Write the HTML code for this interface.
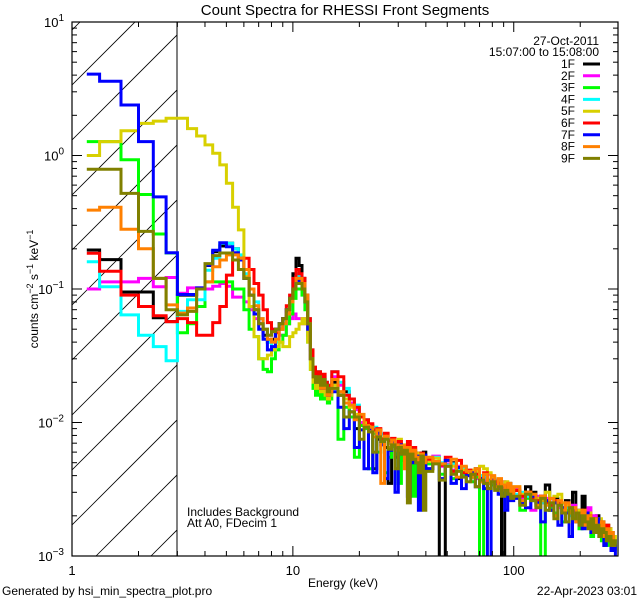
<!DOCTYPE html>
<html><head><meta charset="utf-8">
<style>
html,body{margin:0;padding:0;background:#fff;width:640px;height:600px;overflow:hidden;}
svg{display:block;font-family:"Liberation Sans",sans-serif;overflow:hidden;}
</style></head>
<body>
<svg id="chart" width="640" height="600" viewBox="0 0 640 600" xmlns="http://www.w3.org/2000/svg">
<rect width="640" height="600" fill="#fff"/>
<text x="345" y="15" font-size="15" text-anchor="middle">Count Spectra for RHESSI Front Segments</text>
<defs><clipPath id="plotclip"><rect x="72" y="22" width="546" height="534"/></clipPath>
<clipPath id="hatchclip"><rect x="72" y="22" width="105" height="534"/></clipPath></defs>
<g id="hatch" clip-path="url(#hatchclip)" stroke="#000" stroke-width="0.8"></g>
<line x1="177" y1="22" x2="177" y2="556" stroke="#000" stroke-width="1"/>
<g id="series" clip-path="url(#plotclip)" fill="none" stroke-width="3" stroke-linejoin="miter"></g>
<rect x="72" y="22" width="546" height="534" fill="none" stroke="#000" stroke-width="1.2"/>
<g id="ticks" stroke="#000" stroke-width="1"></g>
<g id="ticklabels" font-size="13"></g>
<text transform="translate(38,289) rotate(-90)" font-size="12" text-anchor="middle">counts cm<tspan dy="-5" font-size="9">−2</tspan><tspan dy="5"> s</tspan><tspan dy="-5" font-size="9">−1</tspan><tspan dy="5"> keV</tspan><tspan dy="-5" font-size="9">−1</tspan></text>
<text x="343" y="587" font-size="12" text-anchor="middle">Energy (keV)</text>
<text x="187" y="516" font-size="12">Includes Background</text>
<text x="187" y="527" font-size="12">Att A0, FDecim 1</text>
<text x="599" y="45" font-size="12" text-anchor="end">27-Oct-2011</text>
<text x="599" y="56" font-size="12" text-anchor="end">15:07:00 to 15:08:00</text>
<g id="legend" font-size="12"></g>
<text x="2" y="595" font-size="12">Generated by hsi_min_spectra_plot.pro</text>
<text x="637" y="595" font-size="12" text-anchor="end">22-Apr-2023 03:01</text>
</svg>
<script>
// ---- data ----
const binSegments = [[1,15,1/3],[15,40,1],[40,100,3],[100,295,6.5]]; // keV: start, end, width
const seriesNames = ["1F","2F","3F","4F","5F","6F","7F","8F","9F"];
const seriesColors = ["#000000","#ff00ff","#00ff00","#00ffff","#d8d000","#ff0000","#0000ff","#ff8000","#808000"];
const low1F=[0.196,0.166,0.095,0.095,0.061,0.057,0.09,0.09,0.1,0.15,0.19,0.21,0.22,0.2,0.17,0.12,0.09,0.07,0.055,0.045,0.04,0.042,0.05,0.055,0.06,0.07,0.085,0.13,0.17,0.15,0.12,0.09,0.05,0.03,0.022,0.02,0.021,0.019,0.02,0.018,0.016,0.017];
const low2F=[0.1,0.113,0.113,0.12,0.104,0.122,0.093,0.102,0.102,0.1,0.105,0.11,0.105,0.087,0.087,0.08,0.07,0.06,0.055,0.05,0.045,0.05,0.05,0.045,0.045,0.055,0.06,0.065,0.06,0.06,0.055,0.06,0.045,0.03,0.022,0.02,0.022,0.019,0.021,0.019,0.017,0.018];
const low3F=[1.27,1.27,0.93,0.51,0.258,0.186,0.047,0.055,0.074,0.113,0.113,0.113,0.113,0.1,0.1,0.07,0.05,0.044,0.03,0.025,0.024,0.03,0.035,0.04,0.045,0.055,0.065,0.085,0.1,0.1,0.09,0.07,0.04,0.025,0.018,0.016,0.018,0.015,0.017,0.015,0.014,0.015];
const low4F=[0.16,0.104,0.064,0.045,0.037,0.029,0.068,0.083,0.083,0.138,0.17,0.22,0.22,0.2,0.18,0.13,0.1,0.08,0.06,0.05,0.04,0.035,0.04,0.05,0.055,0.065,0.085,0.11,0.13,0.12,0.1,0.08,0.06,0.035,0.025,0.022,0.024,0.02,0.022,0.02,0.018,0.019];
const low5F=[1.0,1.27,1.53,1.74,1.81,1.9,1.9,1.59,1.4,1.2,1.04,0.85,0.62,0.41,0.277,0.124,0.074,0.044,0.03,0.03,0.032,0.035,0.037,0.04,0.037,0.037,0.044,0.047,0.05,0.055,0.06,0.055,0.04,0.025,0.02,0.018,0.02,0.017,0.019,0.016,0.015,0.016];
const low6F=[0.185,0.136,0.09,0.074,0.063,0.057,0.06,0.056,0.045,0.045,0.056,0.074,0.127,0.165,0.17,0.17,0.14,0.11,0.09,0.07,0.056,0.05,0.047,0.05,0.06,0.075,0.09,0.12,0.14,0.13,0.12,0.09,0.06,0.035,0.026,0.022,0.024,0.02,0.023,0.02,0.018,0.019];
const low7F=[4.07,3.6,2.39,1.27,0.49,0.187,0.091,0.091,0.102,0.151,0.195,0.222,0.207,0.187,0.165,0.12,0.09,0.065,0.05,0.042,0.035,0.037,0.05,0.055,0.06,0.07,0.085,0.1,0.11,0.12,0.105,0.08,0.05,0.03,0.022,0.02,0.021,0.018,0.02,0.018,0.016,0.017];
const low8F=[0.39,0.41,0.28,0.2,0.12,0.076,0.066,0.072,0.1,0.113,0.147,0.165,0.18,0.18,0.17,0.14,0.1,0.075,0.06,0.05,0.042,0.04,0.042,0.05,0.055,0.065,0.08,0.1,0.12,0.12,0.11,0.09,0.055,0.03,0.022,0.02,0.021,0.018,0.02,0.018,0.016,0.017];
const low9F=[0.79,0.79,0.52,0.27,0.12,0.07,0.064,0.068,0.1,0.155,0.178,0.186,0.186,0.165,0.14,0.12,0.09,0.07,0.055,0.05,0.045,0.048,0.05,0.055,0.06,0.07,0.085,0.1,0.11,0.11,0.1,0.08,0.055,0.03,0.022,0.02,0.022,0.019,0.021,0.019,0.017,0.018];
const hi1F=[.02,.016,.017,.012,.009,.011,.01,.0085,.0045,.0075,.0082,.0065,.0035,.007,.0055,.0069,.006,.0066,.005,.0062,.0058,.004,.0059,.0052,.006,.0045,.0055,0,.0048,.005,.0038,.0046,.0042,.0039,.0045,.0036,.004,.0032,.0038,.0033,.0036,0,.0034,.0035,.003,.0031,.0027,.0033,.003,.0026,.0028,.0034,.0022,.0027,.0025,.0021,.0026,.0023,.003,.002,.0022,.0028,.0018,.0021,.0019,.0017,.002,.0016,.0018,.0012,.0017,.0016,.0014,.0013,.0012];
const hi2F=[.022,.019,.015,.014,.0125,.01,.0095,.009,.0088,.008,.0074,.0079,.007,.0068,.0064,.0072,.006,.0058,.0062,.0055,.006,.0053,.0058,.005,.0055,.005,.0056,.0047,.0049,.0044,.0047,.0043,.004,.0042,.0038,.004,.0036,.0041,.0034,.0035,.0032,.0036,.0031,.0033,.0029,.0032,.0027,.0029,.0022,.0028,.0025,.0027,.0024,.0026,.0023,.0021,.0025,.0022,.0024,.002,.0022,.0021,.0019,.0023,.0018,.002,.0017,.0018,.0016,.0017,.0015,.0016,.0014,.0013,.0013];
const hi3F=[.018,.0075,.013,.011,.0055,.0095,.009,.0045,.0083,.006,.007,.0042,.0055,.0066,.0058,.0035,.0061,.0052,.0059,.005,.0028,.0054,.0045,.0053,.0051,.0049,.005,.0041,.0048,.0038,.0044,.004,.0043,.0036,.0039,0,.0035,.0037,.0034,.0032,.0035,.003,.0028,.003,.0029,.0028,.0022,.0027,.0026,.0024,0,.0025,.0023,.0021,.0024,.0018,.0022,.0021,.002,.0019,.0016,.002,.0018,.0017,.0014,.0018,.0015,.0016,.0013,.0015,.0012,.0014,.0011,.0012,.0011];
const hi4F=[.024,.02,.018,.015,.0135,.011,.0105,.0095,.0092,.0087,.0082,.0078,.0075,.0073,.0066,.0071,.0063,.0065,.006,.0061,.0059,.0058,.0055,.0057,.0052,.0054,.0055,.005,.0048,.0049,.0045,.0046,.0043,.0042,.0041,.004,.0039,.0036,.0038,.0034,.0037,.0033,.0034,.003,.0031,.0029,.003,.0028,.0026,.0027,.0025,.0026,.0022,.0025,.0024,.0022,.0023,.002,.0022,.0021,.002,.0019,.002,.0018,.0019,.0017,.0018,.0016,.0017,.0015,.0016,.0014,.0015,.0013,.0012];
const hi5F=[.019,.017,.015,.013,.0115,.011,.01,.0095,.0085,.0088,.0076,.0082,.0071,.0074,.0063,.0075,.0064,.0068,.0058,.006,.0056,.0059,.0055,.0058,.0054,.0051,.0054,.0049,.0052,.0047,.0046,.0044,.0041,.0044,.0043,.0047,.0045,.0042,.0039,.0036,.0035,.0033,.0036,.003,.0032,.0033,.0029,.003,.0028,.0027,.0026,.003,.0027,.0028,.0029,.0025,.0024,.0022,.0023,.0021,.0022,.002,.0019,.0021,.0018,.0019,.0017,.0019,.0016,.0015,.0017,.0016,.0013,.0014,.0013];
const hi6F=[.024,.022,.016,.015,.013,.011,.0105,.0098,.0088,.009,.0075,.0083,.0073,.0076,.0065,.0072,.0066,.0062,.0072,.0056,.0065,.0055,.0054,.0059,.0051,.0053,.005,.0048,.0055,.0043,.0052,.0042,.0044,.004,.0041,.0038,.0042,.0035,.0037,.0036,.0035,.0034,.0033,.0032,.003,.0031,.0028,.003,.0027,.0026,.0028,.0025,.0024,.0026,.0025,.0023,.0021,.0023,.0022,.0021,.002,.0022,.0019,.002,.0018,.0019,.0017,.0018,.0015,.0016,.0017,.0014,.0015,.0012,.0012];
const hi7F=[.017,.013,.009,.012,.0065,.0088,.0045,.009,.0042,.0083,.0068,.0038,.0062,.0072,.003,.0068,.0058,.006,.0028,.0058,.005,.0056,.0022,.0049,.0057,.0045,.005,.0038,.0052,.0035,.0046,.0032,.004,.0042,.0033,.0038,.0032,0,.0037,.0034,.0029,.0033,.0022,.0031,.0026,.0027,.0025,.0023,.0028,.0025,.0018,.0026,.0022,.0025,.0017,.0023,.0021,.0014,.0022,.0018,.002,.0016,.0021,.0018,.0015,.0017,.0019,.0014,.0016,.0012,.0015,.0013,.0011,.0012,.001];
const hi8F=[.021,.017,.014,.0135,.0105,.0115,.0095,.0092,.0078,.0088,.0035,.0079,.0065,.0074,.0068,.0062,.0067,.0045,.0065,.0053,.0062,.0055,.0052,.0058,.005,.0055,.0051,.0049,.0047,.0053,.0039,.0047,.0043,.0039,.0045,.0036,.0041,.0035,.004,.0033,.0038,.0034,.0031,.0035,.0028,.0033,.0026,.003,.0029,.0024,.0028,.0024,.0027,.002,.0026,.0022,.0025,.0021,.0023,.0018,.0021,.0022,.0017,.002,.0016,.0019,.0017,.0016,.0018,.0014,.0016,.0013,.0015,.0012,.0012];
const hi9F=[.018,.016,.011,.012,.011,.0075,.0092,.0085,.006,.0078,.0072,.0075,.0063,.0068,.0045,.0065,.0058,.0062,.0025,.0058,.0053,.005,.0042,.0056,.0022,.0043,.0049,.0037,.0047,.0041,.0043,.0039,.0036,.0041,.0033,.0037,.0035,.0032,.0036,.0031,.0033,.0028,.0031,.0029,.0027,.0028,.0024,.0029,.0026,.0023,.0027,.0022,.0025,.0019,.0024,.0021,.0018,.0023,.0019,.0021,.0017,.002,.0018,.0016,.0019,.0015,.0017,.0014,.0016,.0015,.0013,.0014,.0012,.0013,.0012];
const lowSets=[low1F,low2F,low3F,low4F,low5F,low6F,low7F,low8F,low9F];
const hiSets=[hi1F,hi2F,hi3F,hi4F,hi5F,hi6F,hi7F,hi8F,hi9F];
const yTickExps=[1,0,-1,-2,-3];
const xTickLabels=[1,10,100];

// ---- axes ----
const X0=72,X1=618,Y0=22,Y1=556;
const xMin=0,xMax=Math.log10(296.5);
const yMax=1,yMin=-3;
function xs(e){return X0+(Math.log10(e)-xMin)/(xMax-xMin)*(X1-X0);}
function ys(v){if(!(v>0))return 580;return Y0+(yMax-Math.log10(v))/(yMax-yMin)*(Y1-Y0);}
const NS="http://www.w3.org/2000/svg";
function mk(tag,attrs,parent){const el=document.createElementNS(NS,tag);for(const k in attrs)el.setAttribute(k,attrs[k]);parent.appendChild(el);return el;}

const edges=[];
binSegments.forEach(s=>{const n=Math.round((s[1]-s[0])/s[2]);for(let i=0;i<n;i++)edges.push(s[0]+i*s[2]);});
edges.push(binSegments[binSegments.length-1][1]);

// hatch: 45-degree lines kept inside the plot box
const hatch=document.getElementById('hatch');
for(let y0=30;y0<=660;y0+=55){
  let xa=X0,ya=y0;
  if(ya>Y1){xa=X0+(ya-Y1);ya=Y1;}
  let xb=X0+110,yb=y0-110;
  if(yb<Y0){xb=X0+(y0-Y0);yb=Y0;}
  const ln=mk('line',{x1:xa,y1:ya,x2:xb,y2:yb},hatch);
  
  
}

// series
const sg=document.getElementById('series');
seriesNames.forEach((nm,si)=>{
  const vals=lowSets[si].concat(hiSets[si]);
  const n=Math.min(vals.length,edges.length-1);
  const cx=i=>xs((edges[i]+edges[i+1])/2);
  let d='M'+cx(0).toFixed(1)+','+ys(vals[0]).toFixed(1);
  for(let i=0;i<n-1;i++){
    d+='H'+xs(edges[i+1]).toFixed(1)+'V'+ys(vals[i+1]).toFixed(1);
  }
  d+='H'+cx(n-1).toFixed(1);
  const p=mk('path',{d:d,stroke:seriesColors[si]},sg);
  
  
});

// ticks
const tg=document.getElementById('ticks'), lg=document.getElementById('ticklabels');
for(let e=-3;e<=1;e++){
  for(let m=1;m<=9;m++){
    const v=m*Math.pow(10,e); if(e===1&&m>1)break;
    const y=ys(v), L=(m===1)?10:5;
    const t1=mk('line',{x1:X0,y1:y,x2:X0+L,y2:y},tg);
    
    
    const t2=mk('line',{x1:X1,y1:y,x2:X1-L,y2:y},tg);
    
    
  }
}
yTickExps.forEach(e=>{
  const t=mk('text',{x:X0-8,y:ys(Math.pow(10,e))+5,'text-anchor':'end'},lg);
  
  
  t.innerHTML='10<tspan dy="-6" font-size="10">'+(e<0?'−'+(-e):e)+'</tspan>';
});
for(let e=0;e<=2;e++){
  for(let m=1;m<=9;m++){
    const v=m*Math.pow(10,e); if(v>296)break;
    const x=xs(v), L=(m===1)?10:5;
    const t1=mk('line',{x1:x,y1:Y1,x2:x,y2:Y1-L},tg);
    
    
    const t2=mk('line',{x1:x,y1:Y0,x2:x,y2:Y0+L},tg);
    
    
  }
}
xTickLabels.forEach(v=>{
  const t=mk('text',{x:xs(v),y:575,'text-anchor':'middle'},lg);
  
  
  t.textContent=v;
});

// legend
const leg=document.getElementById('legend');
seriesNames.forEach((nm,i)=>{
  const y=64+i*11.8;
  const t=mk('text',{x:575,y:y+4,'text-anchor':'end'},leg);
  
  
  t.textContent=nm;
  const l=mk('line',{x1:583,y1:y,x2:600,y2:y,stroke:seriesColors[i],'stroke-width':3},leg);
  
  
});
</script>
</body></html>
